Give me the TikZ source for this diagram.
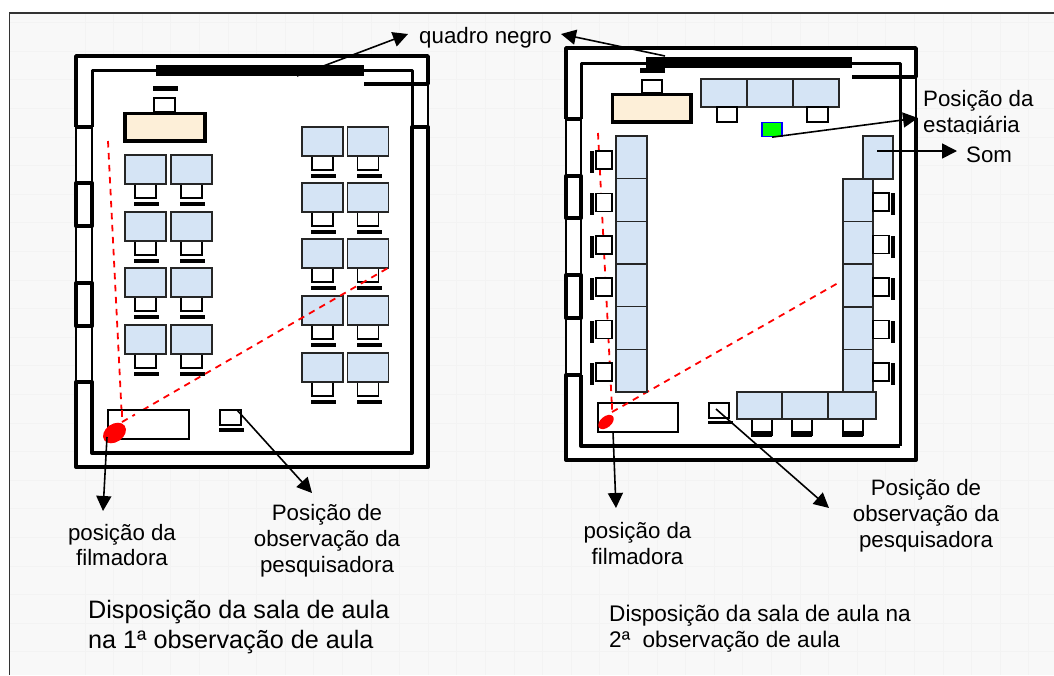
\documentclass[tikz,border=0pt]{standalone}
\usepackage{fontspec}
\setmainfont{Liberation Sans}
\usetikzlibrary{arrows.meta}
\definecolor{deskblue}{HTML}{D5E4F5}
\definecolor{teach}{HTML}{FDEFD8}
\definecolor{paper}{HTML}{F8F8F8}
\definecolor{gridc}{HTML}{F3F3F3}
\tikzset{x=1pt,y=-1pt,
 wall/.style={line width=4pt,line join=round},
 thinwall/.style={line width=1.5pt},
 desk/.style={draw=black!85,line width=1.6pt,fill=deskblue},
 chair/.style={draw=black,line width=1.6pt,fill=white},
 barb/.style={fill=black,draw=none},
 arr/.style={draw=black,line width=1.6pt,-{Triangle[length=15pt,width=15pt]}},
 cam/.style={draw=red,line width=1.8pt,dash pattern=on 6.5pt off 5.5pt},
 lab/.style={font=\fontsize{22.3}{26}\selectfont,align=center,text=black,inner sep=0pt}}
\newcommand{\rr}[5]{\path[#1] (#2,#3) rectangle (#4,#5);}
\begin{document}
\begin{tikzpicture}
\useasboundingbox (0,0) rectangle (1054,675);
\fill[white] (0,0) rectangle (1054,675);
\fill[paper] (10,13) rectangle (1054,675);
\foreach \k in {-16,...,7}{\draw[gridc,line width=0.6pt] (10,480+\k*28.6) -- (1054,480+\k*28.6);}
\foreach \k in {0,...,33}{\draw[gridc,line width=0.6pt] (1028.6-\k*28.6,13) -- (1028.6-\k*28.6,675);}
\draw[black!80,line width=1.3pt] (1054,13) -- (9.5,13) -- (9.5,675);
% left room
\fill[white] (76,56) rectangle (428,467);
\draw[thinwall] (76,127) -- (76,382) (92,127) -- (92,382) (428,84) -- (428,127) (412,70) -- (412,127);
\draw[wall,line width=3.5pt] (76,127) -- (76,56) -- (428,56) -- (428,84) -- (364,84);
\draw[wall,line width=3pt] (92,127) -- (92,70) -- (412,70) -- (412,127);
\draw[wall] (76,127) -- (92,127);
\draw[wall] (92,183) -- (76,183) -- (76,226) -- (92,226) -- cycle;
\draw[wall] (92,283) -- (76,283) -- (76,326) -- (92,326) -- cycle;
\draw[wall] (92,382) -- (76,382) -- (76,467) -- (428,467) -- (428,127) -- (412,127) -- (412,453) -- (92,453) -- cycle;
\node[draw=none,fill=black,minimum width=208pt,minimum height=11pt,inner sep=0pt] (boardA) at (260,70.5) {};
\rr{chair}{154}{98}{175}{112}
\rr{barb}{153}{86}{178}{91}
\path[draw=black,line width=3.8pt,fill=teach] (125,113.5) rectangle (205,141);
\foreach \y in {155,212,268,325}{
 \foreach \dx in {0,46}{
  \rr{chair}{135+\dx}{\y+29}{156+\dx}{\y+43}
  \rr{desk}{125+\dx}{\y}{166+\dx}{\y+29}
  \rr{barb}{134+\dx}{\y+47}{159+\dx}{\y+51}
 }}
\foreach \y in {127,183,239,296,353}{
 \foreach \dx in {0,45.5}{
  \rr{chair}{312+\dx}{\y+29}{333+\dx}{\y+43}
  \rr{desk}{302+\dx}{\y}{343+\dx}{\y+29}
  \rr{barb}{311+\dx}{\y+47}{336+\dx}{\y+51}
 }}
\draw[cam] (108,141) -- (122,420);
\draw[cam] (122,422) -- (388,268);
\node[draw=black,line width=1.3pt,fill=white,minimum width=81pt,minimum height=29pt,inner sep=0pt] (tableA) at (148.5,424.5) {};
\draw[cam] (122,422) -- (135,414.5);
\draw[cam] (122,410) -- (122,420);
\node[draw=black,line width=1.6pt,fill=white,minimum width=21pt,minimum height=15pt,inner sep=0pt] (obsA) at (230.5,417.5) {};
\rr{barb}{219}{428}{244}{432}
\fill[red,rotate around={35:(114.5,433)}] (114.5,433) ellipse [x radius=12.5,y radius=9];
\coordinate (camA) at (107,437);
\coordinate (obsAs) at (237,410);
% right room
\fill[white] (566,48) rectangle (916,460);
\draw[thinwall] (566,119) -- (566,375) (581,119) -- (581,375) (916,77) -- (916,118);
\draw[wall,line width=3.5pt] (566,119) -- (566,48) -- (916,48) -- (916,77) -- (852,77);
\draw[wall,line width=3pt] (581,119) -- (581,63) -- (900,63) -- (900,446);
\draw[wall] (566,119) -- (581,119);
\draw[wall] (581,176) -- (566,176) -- (566,218) -- (581,218) -- cycle;
\draw[wall] (581,275) -- (566,275) -- (566,318) -- (581,318) -- cycle;
\draw[wall] (581,375) -- (566,375) -- (566,460) -- (916,460) -- (916,118);
\draw[wall] (581,375) -- (581,446) -- (900,446);
\node[draw=none,fill=black,minimum width=206pt,minimum height=11pt,inner sep=0pt] (boardB) at (749,62.5) {};
\rr{barb}{640}{68}{665}{73}
\rr{chair}{642}{80}{662}{93}
\path[draw=black,line width=3.8pt,fill=teach] (612.5,94.5) rectangle (691,122);
\foreach \xa/\xb in {701/747,747/793,793/839}{\rr{desk}{\xa}{79}{\xb}{107}}
\rr{chair}{717}{107}{737}{122}
\rr{chair}{807}{107}{828}{122}
\node[draw=blue,line width=1.3pt,fill=green,minimum width=20pt,minimum height=14pt,inner sep=0pt] (stag) at (772,129.5) {};
\draw[cam] (598,133) -- (612,408);
\draw[cam] (612,412) -- (838,283);
\foreach \i in {0,...,5}{
 \rr{desk}{616}{136+\i*42.67}{647}{178.67+\i*42.67}
 \rr{chair}{596}{151+\i*42.4}{612}{169+\i*42.4}
 \rr{barb}{590}{151+\i*42.4}{594}{173+\i*42.4}
}
\foreach \i in {0,...,4}{
 \rr{desk}{843}{179+\i*42.6}{873}{221.6+\i*42.6}
 \rr{chair}{873}{193+\i*42.5}{889}{211+\i*42.5}
 \rr{barb}{891}{193+\i*42.5}{895}{215+\i*42.5}
}
\node[desk,minimum width=30pt,minimum height=43pt,inner sep=0pt] (som) at (878,157.5) {};
\foreach \xa/\xb in {752/772,792/812,843/863}{
 \rr{chair}{\xa}{419}{\xb}{435}
 \rr{barb}{\xa-1}{431}{\xb}{437}
}
\foreach \xa/\xb in {737/782,782/828,828/876}{\rr{desk}{\xa}{392}{\xb}{419}}
\node[draw=black,line width=1.3pt,fill=white,minimum width=80pt,minimum height=29pt,inner sep=0pt] (tableB) at (638,417.5) {};
\draw[cam] (612,403) -- (612,414) (612,412) -- (628,403);
\fill[red,rotate around={40:(606,422)}] (606,422) ellipse [x radius=9,y radius=5.5];
\node[draw=black,line width=1.6pt,fill=white,minimum width=20pt,minimum height=15pt,inner sep=0pt] (obsB) at (719,410.5) {};
\rr{barb}{708}{421}{733}{424}
\coordinate (obsBs) at (716,409);
% labels
\node[lab,anchor=base west] (qn) at (419,43) {quadro negro};
\node[lab,anchor=base west] (est1) at (923,106) {Posição da};
\begin{scope}
\clip (915,110) rectangle (1054,133.5);
\node[lab,anchor=base west] (est2) at (923,132) {estagiária};
\end{scope}
\node[lab,anchor=base west] (somt) at (966,162) {Som};
\node[lab] (filA) at (122,545) {posição da\\[-1pt]filmadora};
\node[lab] (pesA) at (327,541) {Posição de\\observação da\\pesquisadora};
\node[lab] (filB) at (637.5,544) {posição da\\filmadora};
\node[lab] (pesB) at (926,516) {Posição de\\observação da\\pesquisadora};
\node[lab,anchor=base west,align=left,font=\fontsize{25.2}{30}\selectfont] (capA) at (88,618) {Disposição da sala de aula};
\node[lab,anchor=base west,align=left,font=\fontsize{25.2}{30}\selectfont] (capA2) at (88,648) {na 1ª observação de aula};
\node[lab,anchor=base west,font=\fontsize{22.6}{26}\selectfont] (capB) at (609,621) {Disposição da sala de aula na};
\node[lab,anchor=base west,font=\fontsize{22.6}{26}\selectfont] (capB2) at (609,647) {2ª\ \ observação de aula};
% arrows
\coordinate (qa) at (297,76);
\draw[arr] (qa) -- (408,34);
\coordinate (qb) at (665,56);
\draw[arr] (qb) -- (561,34);
\draw[arr] (stag.south) -- (918,118);
\coordinate (somS) at (877,151);
\draw[arr] (somS) -- (957,151);
\draw[arr] (camA) -- (103,511);
\draw[arr] (obsAs) -- (312,493);
\coordinate (camB) at (613,432);
\draw[arr] (camB) -- (616,508);
\draw[arr] (obsBs) -- (829,508);
\end{tikzpicture}
\end{document}
